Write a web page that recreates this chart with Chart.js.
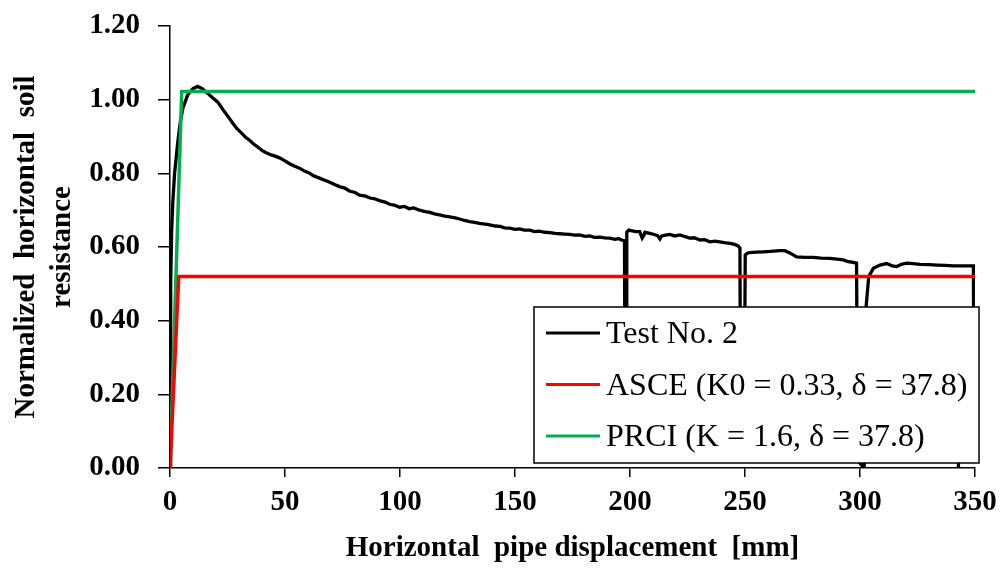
<!DOCTYPE html>
<html>
<head>
<meta charset="utf-8">
<script src="https://cdn.jsdelivr.net/npm/chart.js@4"></script>
<style>
html,body{margin:0;padding:0;background:#fff;}
#wrap{width:1004px;height:569px;position:relative;}
</style>
</head>
<body>
<div id="wrap"><canvas id="c" width="1004" height="569"></canvas></div>
<script>
// ---- data ----
const testX = [0,0.2,0.4,0.7,1.2,2.0,3.4,4.5,5.6,7.7,10,12,14,16.4,18.5,20.8,23.7,25.5,27.3,29,31,33,34.6,36.5,38.5,40,41.8,44,46,47.6,50,52,54,56.3,58.5,60.5,62.5,65,67,69,71.5,73.7,76,78,80.5,82.4,85,87,89,91.1,93.5,95.5,97.5,99.8,102,104,106,108.5,111,113,115,117.2,119.5,121.6,124,125.9,128,130.3,132.5,134.5,137,139,141.5,143.5,145.5,147.7,150,152,154,156.4,158.5,160.5,163,165.1,167.5,169.5,171.5,173.8,176,178,180.5,182.5,184.5,187,189,191.2,193.5,195,196.3,197.6,197.9,198.3,198.6,199.5,201,202.5,204.2,205.3,205.9,206.5,208.6,210.5,212,213,213.8,215.5,217.3,219.5,221.7,224,226,228,230.4,232.5,234.7,237,239,241,243.4,245.5,247,247.8,248.1,249.6,250.1,251,252.1,255,257.9,261,265.2,267.3,269.5,272.4,276,279.7,283,287,290,292.7,294.9,297,298.5,299.0,301.8,302.6,303.8,305.8,308.7,311.6,314,316,318,320.3,323,326.1,330,333.4,337,340.6,345,349.3,349.6,342.8,342.8];
const testY = [0,0.30,0.50,0.64,0.72,0.80,0.886,0.94,0.977,1.013,1.030,1.036,1.030,1.017,1.005,0.993,0.967,0.952,0.936,0.922,0.910,0.897,0.890,0.879,0.870,0.862,0.856,0.850,0.846,0.842,0.834,0.826,0.820,0.814,0.806,0.801,0.793,0.787,0.782,0.777,0.770,0.764,0.760,0.752,0.748,0.741,0.738,0.733,0.731,0.726,0.722,0.716,0.714,0.708,0.710,0.704,0.706,0.700,0.696,0.694,0.690,0.687,0.684,0.682,0.679,0.676,0.672,0.669,0.667,0.664,0.662,0.660,0.657,0.656,0.652,0.651,0.648,0.649,0.646,0.646,0.642,0.643,0.640,0.639,0.637,0.636,0.635,0.634,0.632,0.633,0.629,0.630,0.626,0.627,0.625,0.624,0.621,0.623,0.619,0.617,0.05,0.05,0.640,0.646,0.644,0.642,0.642,0.624,0.630,0.640,0.637,0.634,0.631,0.622,0.630,0.632,0.634,0.630,0.633,0.628,0.624,0.625,0.619,0.620,0.614,0.616,0.614,0.612,0.610,0.607,0.603,0.597,0.05,0.05,0.578,0.583,0.585,0.586,0.587,0.588,0.590,0.590,0.584,0.573,0.572,0.572,0.570,0.569,0.567,0.565,0.560,0.558,0.556,0.02,0.0,0.434,0.52,0.542,0.551,0.555,0.549,0.547,0.553,0.556,0.555,0.553,0.552,0.551,0.550,0.549,0.549,0.549,0.03,0.02,0.0];
const asceX = [0, 3.8, 350];
const asceY = [0, 0.52, 0.52];
const prciX = [0, 5.1, 350];
const prciY = [0, 1.022, 1.022];
const xTicks = [0,50,100,150,200,250,300,350];
const yTicks = [0,0.2,0.4,0.6,0.8,1.0,1.2];
const seriesNames = ['Test No. 2', 'ASCE (K0 = 0.33, \u03b4 = 37.8)', 'PRCI (K = 1.6, \u03b4 = 37.8)'];
const xTitle = 'Horizontal  pipe displacement  [mm]';
const yTitle = ['Normalized  horizontal  soil', 'resistance'];

const zip = (xs, ys) => xs.map((x, i) => ({x, y: ys[i]}));
const SERIF = '"Liberation Serif", "DejaVu Serif", serif';
const colors = ['#000000', '#ff0000', '#00b050'];

const legendPlugin = {
  id: 'boxLegend',
  afterDraw(chart) {
    const ctx = chart.ctx;
    const ca = chart.chartArea;
    const L = ca.right - 441, T = ca.top + 281, W = 445, H = 156;
    ctx.save();
    ctx.fillStyle = '#fff';
    ctx.fillRect(L, T, W, H);
    ctx.strokeStyle = '#000';
    ctx.lineWidth = 1.5;
    ctx.strokeRect(L, T, W, H);
    ctx.font = '32px ' + SERIF;
    ctx.textBaseline = 'alphabetic';
    ctx.textAlign = 'left';
    seriesNames.forEach((name, i) => {
      const y = T + 26 + i * 51.5;
      ctx.strokeStyle = colors[i];
      ctx.lineWidth = 3;
      ctx.beginPath();
      ctx.moveTo(L + 12, y);
      ctx.lineTo(L + 66, y);
      ctx.stroke();
      ctx.fillStyle = '#000';
      ctx.fillText(name, L + 72, y + 10);
    });
    ctx.restore();
  }
};

new Chart(document.getElementById('c'), {
  type: 'scatter',
  data: {
    datasets: [
      {label: seriesNames[0], data: zip(testX, testY), showLine: true, borderColor: colors[0], borderWidth: 3.3, pointRadius: 0, order: 3, tension: 0},
      {label: seriesNames[1], data: zip(asceX, asceY), showLine: true, borderColor: colors[1], borderWidth: 3.5, pointRadius: 0, order: 1},
      {label: seriesNames[2], data: zip(prciX, prciY), showLine: true, borderColor: colors[2], borderWidth: 3.5, pointRadius: 0, order: 2}
    ]
  },
  options: {
    responsive: false,
    animation: false,
    events: [],
    layout: {padding: {top: 26, right: 29, left: 0, bottom: 0}},
    plugins: {legend: {display: false}, tooltip: {enabled: false}},
    scales: {
      x: {
        type: 'linear', min: 0, max: 350,
        afterBuildTicks: s => { s.ticks = xTicks.map(v => ({value: v})); },
        afterFit: s => { s.height = 101; s.paddingLeft = 0; s.paddingRight = 0; },
        grid: {drawOnChartArea: false, drawTicks: true, tickLength: 9, color: '#000', lineWidth: 1.5},
        border: {display: true, color: '#000', width: 1.5},
        ticks: {color: '#000', padding: 8, maxRotation: 0, font: {family: SERIF, size: 29, weight: 'bold'}},
        title: {display: true, text: xTitle, color: '#000', padding: {top: 4, bottom: 3}, font: {family: SERIF, size: 29, weight: 'bold', lineHeight: 1.2}}
      },
      y: {
        type: 'linear', min: 0, max: 1.2,
        afterBuildTicks: s => { s.ticks = yTicks.map(v => ({value: v})); },
        afterFit: s => { s.width = 170; s.paddingTop = 0; s.paddingBottom = 0; },
        grid: {drawOnChartArea: false, drawTicks: true, tickLength: 12, color: '#000', lineWidth: 1.5},
        border: {display: true, color: '#000', width: 1.5},
        ticks: {color: '#000', padding: 18, callback: v => v.toFixed(2), font: {family: SERIF, size: 29, weight: 'bold'}},
        title: {display: true, text: yTitle, color: '#000', padding: {top: 9, bottom: 0}, font: {family: SERIF, size: 29, weight: 'bold', lineHeight: 1.24}}
      }
    }
  },
  plugins: [legendPlugin]
});
</script>
</body>
</html>
